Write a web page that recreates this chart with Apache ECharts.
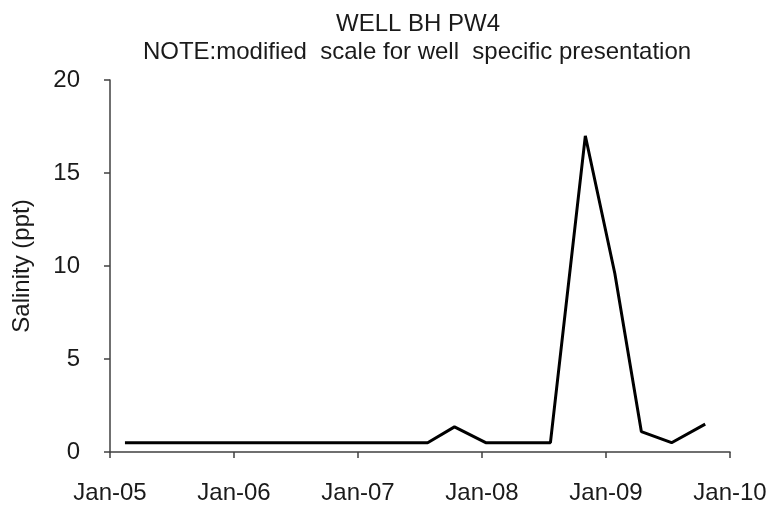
<!DOCTYPE html>
<html>
<head>
<meta charset="utf-8">
<script src="https://cdn.jsdelivr.net/npm/echarts@6/dist/echarts.min.js"></script>
<style>html,body{margin:0;padding:0;background:#fff;}#c{width:775px;height:508px;}</style>
</head>
<body>
<div id="c"></div>
<script>
const titleText = 'WELL BH PW4';
const subtitleText = 'NOTE:modified  scale for well  specific presentation';
const yAxisName = 'Salinity (ppt)';
const sampleDates = ['2005-02-14','2007-07-25','2007-10-12','2008-01-12','2008-07-21','2008-11-01','2009-01-27','2009-04-15','2009-07-13','2009-10-20'];
const salinity = [0.5, 0.5, 1.35, 0.5, 0.5, 17, 9.6, 1.1, 0.5, 1.5];
const yTicks = [0, 5, 10, 15, 20];
const xTickYears = [2005, 2006, 2007, 2008, 2009, 2010];

function toYear(s) {
  const d = new Date(s + 'T00:00:00Z');
  const y = d.getUTCFullYear();
  const start = Date.UTC(y, 0, 1), end = Date.UTC(y + 1, 0, 1);
  return y + (d.getTime() - start) / (end - start);
}
const seriesData = sampleDates.map((s, i) => [toYear(s), salinity[i]]);

const chart = echarts.init(document.getElementById('c'));
chart.setOption({
  animation: false,
  backgroundColor: '#fff',
  textStyle: { fontFamily: 'Liberation Sans, Arial, sans-serif' },
  title: [
    { text: titleText, left: 413, top: 7, textAlign: 'center',
      textStyle: { fontSize: 24, fontWeight: 'normal', color: '#1a1a1a', fontFamily: 'Liberation Sans' } },
    { text: subtitleText, left: 412, top: 35, textAlign: 'center',
      textStyle: { fontSize: 24, fontWeight: 'normal', color: '#1a1a1a', fontFamily: 'Liberation Sans' } }
  ],
  grid: { left: 110, right: 45, top: 80, bottom: 56, containLabel: false },
  xAxis: {
    type: 'value', min: xTickYears[0], max: xTickYears[xTickYears.length - 1], interval: 1,
    splitLine: { show: false },
    axisLine: { onZero: false, lineStyle: { color: '#404040', width: 1.5 } },
    axisTick: { show: true, inside: false, length: 6, lineStyle: { color: '#404040', width: 1.5 } },
    axisLabel: { color: '#1a1a1a', fontSize: 24, margin: 29,
      formatter: v => 'Jan-' + String(Math.round(v) % 100).padStart(2, '0') }
  },
  yAxis: {
    type: 'value', min: yTicks[0], max: yTicks[yTicks.length - 1], interval: 5,
    name: yAxisName, nameLocation: 'middle', nameGap: 76, nameRotate: 90,
    nameTextStyle: { fontSize: 24, color: '#1a1a1a' },
    splitLine: { show: false },
    axisLine: { show: true, lineStyle: { color: '#404040', width: 1.5 } },
    axisTick: { show: true, inside: false, length: 6, lineStyle: { color: '#404040', width: 1.5 } },
    axisLabel: { color: '#1a1a1a', fontSize: 24, margin: 30 }
  },
  series: [{
    type: 'line', data: seriesData, symbol: 'none',
    lineStyle: { color: '#000', width: 3 }
  }]
});
</script>
</body>
</html>
